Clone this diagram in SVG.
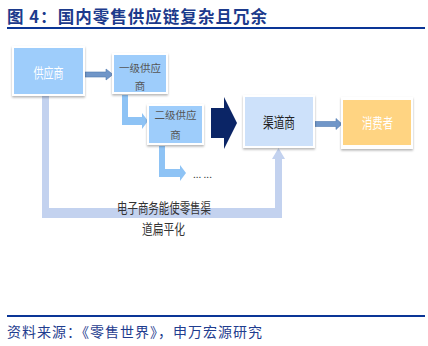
<svg xmlns="http://www.w3.org/2000/svg" width="428" height="346" viewBox="0 0 428 346">
<style>
.cjk{font-family:"Noto Sans CJK SC","Noto Sans",sans-serif}
.frame{fill:#ffffff;filter:url(#sh)}
.sup{fill:#9ecdfb}
.lbl{fill:#555555;font-size:10.5px;text-anchor:middle}
.wh{fill:#ffffff;font-size:14px;text-anchor:middle}
.thin{fill:#7096c8;stroke:#4f79b0;stroke-width:0.6}
.larr{fill:#8ec3f5}
</style>
<defs>
<filter id="sh" x="-20%" y="-20%" width="140%" height="150%">
<feDropShadow dx="0" dy="1.5" stdDeviation="1.2" flood-color="#000" flood-opacity="0.3"/>
</filter>
</defs>
<rect width="428" height="346" fill="#ffffff"/>
<g id="title">
<text class="cjk" x="7" y="23" font-size="16.5" font-weight="bold" fill="#1c3a8c" textLength="260" lengthAdjust="spacing">图 4：国内零售供应链复杂且冗余</text>
<rect x="7" y="27" width="418" height="2" fill="#0a3596"/>
</g>
<g id="connectors">
<path d="M42,96 H49 V208 H275 V159 H272 L278.5,148 L285,159 H282 V218 H42 Z" fill="#c3d2ef"/>
<path class="thin" d="M85,72 H106 V69 L113,74.5 L106,80 V77 H85 Z"/>
<path class="thin" d="M315,121.5 H336 V118.5 L342,124 L336,129.5 V126.5 H315 Z"/>
<path class="larr" d="M122,95 H128 V117 H142 V113 L148,121 L142,129 V125 H122 Z"/>
<path class="larr" d="M159,146 H165 V169 H180 V165 L186,173 L180,181 V177 H159 Z"/>
<path d="M211,108 H224 V97 L237,123 L224,149 V138 H211 Z" fill="#0b2566"/>
</g>
<g id="supplier">
<rect class="frame" x="12" y="46" width="73" height="50"/>
<rect class="sup" x="14" y="48" width="69" height="46"/>
<text class="cjk wh" x="48.5" y="78" textLength="30" lengthAdjust="spacingAndGlyphs">供应商</text>
</g>
<g id="tier1">
<rect class="frame" x="112" y="53" width="56" height="41"/>
<rect class="sup" x="114" y="55" width="52" height="37"/>
<text class="cjk lbl" x="140" y="72">一级供应</text>
<text class="cjk lbl" x="140" y="90">商</text>
</g>
<g id="tier2">
<rect class="frame" x="147" y="104" width="57" height="41"/>
<rect class="sup" x="149" y="106" width="53" height="37"/>
<text class="cjk lbl" x="175.5" y="119">二级供应</text>
<text class="cjk lbl" x="175.5" y="139">商</text>
</g>
<g id="more">
<text class="cjk" x="193" y="178" font-size="10" fill="#333333">... ...</text>
</g>
<g id="channel">
<rect class="frame" x="243" y="95" width="72" height="53"/>
<rect x="245" y="97" width="68" height="49" fill="#cde1fa"/>
<text class="cjk" x="279" y="128" font-size="15" fill="#222222" text-anchor="middle" textLength="32" lengthAdjust="spacingAndGlyphs">渠道商</text>
</g>
<g id="consumer">
<rect class="frame" x="341" y="97" width="72" height="52"/>
<rect x="343" y="100" width="68" height="45" fill="#ffd482"/>
<text class="cjk wh" x="377.5" y="128" textLength="31" lengthAdjust="spacingAndGlyphs">消费者</text>
</g>
<g id="caption">
<text class="cjk" x="164" y="213" font-size="14" fill="#333333" text-anchor="middle" textLength="94" lengthAdjust="spacingAndGlyphs">电子商务能使零售渠</text>
<text class="cjk" x="163.5" y="234" font-size="14" fill="#333333" text-anchor="middle" textLength="43" lengthAdjust="spacingAndGlyphs">道扁平化</text>
</g>
<g id="source">
<rect x="7" y="315" width="418" height="2" fill="#0a3596"/>
<text class="cjk" x="7" y="337" font-size="14" fill="#1f3d8f" textLength="255" lengthAdjust="spacing">资料来源：《零售世界》，申万宏源研究</text>
</g>
</svg>
